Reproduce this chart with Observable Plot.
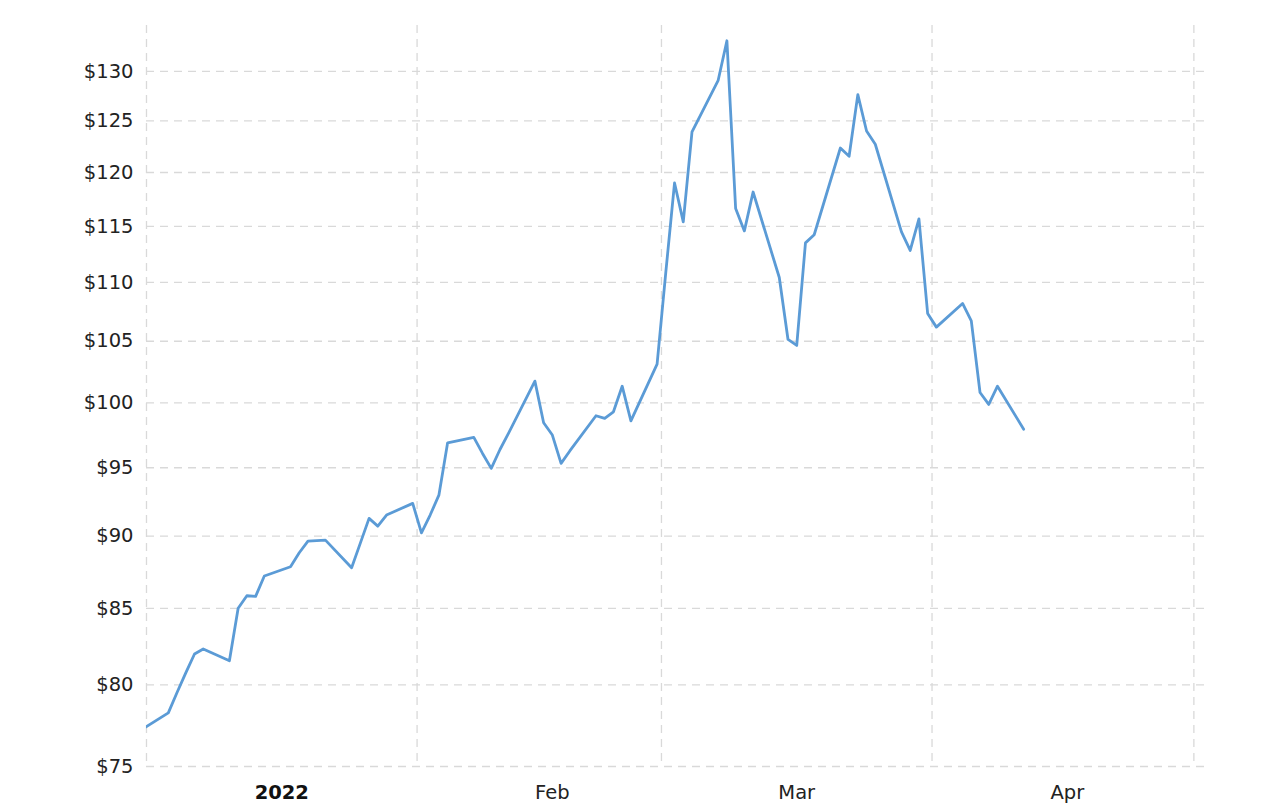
<!DOCTYPE html>
<html>
<head>
<meta charset="utf-8">
<script src="https://cdn.jsdelivr.net/npm/d3@7"></script>
<script src="https://cdn.jsdelivr.net/npm/@observablehq/plot@0.6"></script>
<style>
  html, body { margin: 0; padding: 0; background: #fff; }
  #chart { width: 1280px; height: 807px; }
</style>
</head>
<body>
<div id="chart"></div>
<script>
// Daily spot price (USD/barrel)
const dates = [
  "2021-12-31",
  "2022-01-03","2022-01-04","2022-01-05","2022-01-06","2022-01-07",
  "2022-01-10","2022-01-11","2022-01-12","2022-01-13","2022-01-14",
  "2022-01-17","2022-01-18","2022-01-19","2022-01-20","2022-01-21",
  "2022-01-24","2022-01-25","2022-01-26","2022-01-27","2022-01-28",
  "2022-01-31","2022-02-01","2022-02-02","2022-02-03","2022-02-04",
  "2022-02-07","2022-02-08","2022-02-09","2022-02-10","2022-02-11",
  "2022-02-14","2022-02-15","2022-02-16","2022-02-17","2022-02-18",
  "2022-02-21","2022-02-22","2022-02-23","2022-02-24","2022-02-25",
  "2022-02-28","2022-03-01","2022-03-02","2022-03-03","2022-03-04",
  "2022-03-07","2022-03-08","2022-03-09","2022-03-10","2022-03-11",
  "2022-03-14","2022-03-15","2022-03-16","2022-03-17","2022-03-18",
  "2022-03-21","2022-03-22","2022-03-23","2022-03-24","2022-03-25",
  "2022-03-28","2022-03-29","2022-03-30","2022-03-31","2022-04-01",
  "2022-04-04","2022-04-05","2022-04-06","2022-04-07","2022-04-08",
  "2022-04-11"
];
const prices = [
  77.24,
  78.25, 79.52, 80.77, 81.98, 82.31,
  81.55, 85.00, 85.85, 85.81, 87.20,
  87.84, 88.82, 89.64, 89.68, 89.71,
  87.77, 89.50, 91.27, 90.71, 91.51,
  92.36, 90.23, 91.51, 92.96, 96.89,
  97.31, 96.08, 94.95, 96.38, 97.66,
  101.74, 98.44, 97.49, 95.33, 96.27,
  98.99, 98.78, 99.30, 101.33, 98.59,
  103.11, 110.90, 119.01, 115.40, 123.91,
  129.08, 133.18, 116.63, 114.58, 118.16,
  110.43, 105.15, 104.65, 113.50, 114.23,
  122.35, 121.55, 127.63, 124.00, 122.71,
  114.49, 112.82, 115.67, 107.33, 106.18,
  108.19, 106.70, 100.83, 99.88, 101.33,
  97.94
];

// Axis ticks
const yTicks = [75, 80, 85, 90, 95, 100, 105, 110, 115, 120, 125, 130];
const monthStarts = ["2022-01-01", "2022-02-01", "2022-03-01", "2022-04-01", "2022-05-01"];
const monthLabels = ["2022", "Feb", "Mar", "Apr"];
const monthLabelDates = ["2022-01-16T12:00Z", "2022-02-16T12:00Z", "2022-03-16T12:00Z", "2022-04-16T12:00Z"];

// Table built from the arrays (points stamped at noon UTC)
const data = dates.map((d, i) => ({ date: new Date(d + "T12:00:00Z"), price: prices[i] }));
const gridDates = monthStarts.map(d => new Date(d + "T00:00:00Z"));
const labelDates = monthLabelDates.map(d => new Date(d.replace("Z", ":00Z")));
const labelMap = new Map(labelDates.map((d, i) => [+d, monthLabels[i]]));

const chart = Plot.plot({
  width: 1280,
  height: 807,
  marginLeft: 146,
  marginRight: 75,
  marginTop: 25,
  marginBottom: 41,
  style: { fontFamily: "DejaVu Sans, Verdana, sans-serif", fontSize: "19.5px", color: "#222", background: "#fff" },
  x: { type: "utc", domain: [new Date("2022-01-01T00:00:00Z"), new Date("2022-05-02T08:00:00Z")] },
  y: { type: "log", domain: [75, 134.8] },
  marks: [
    Plot.gridY(yTicks, { stroke: "#d9d9d9", strokeOpacity: 1, strokeWidth: 1.3, strokeDasharray: "8,6" }),
    Plot.gridX(gridDates, { stroke: "#d9d9d9", strokeOpacity: 1, strokeWidth: 1.3, strokeDasharray: "8,6" }),
    Plot.axisY(yTicks, { tickSize: 0, tickPadding: 13, tickFormat: d => "$" + d, label: null, fill: "#222" }),
    Plot.axisX([labelDates[0]], { tickSize: 0, tickPadding: 19, tickFormat: d => labelMap.get(+d), label: null, fontWeight: "bold", fill: "#111" }),
    Plot.axisX(labelDates.slice(1), { tickSize: 0, tickPadding: 19, tickFormat: d => labelMap.get(+d), label: null, fill: "#222" }),
    Plot.lineY(data, { x: "date", y: "price", stroke: "#5b9bd6", strokeWidth: 2.8, clip: true, curve: "linear" })
  ]
});
document.getElementById("chart").appendChild(chart);
</script>
</body>
</html>
